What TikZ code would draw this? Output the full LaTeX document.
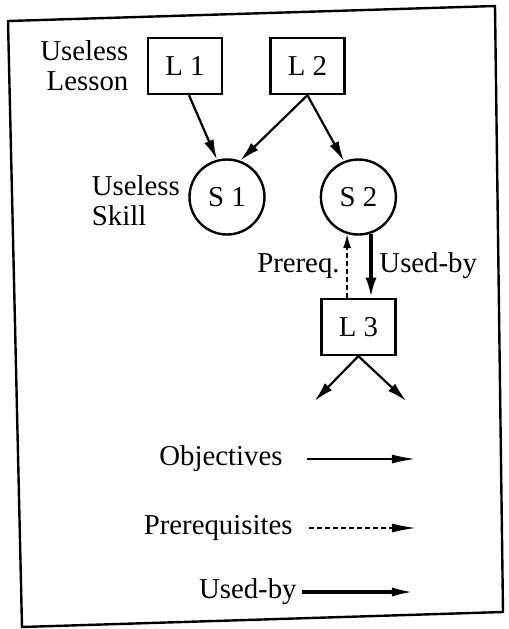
\documentclass[tikz,border=0pt]{standalone}
\usepackage{fontspec}
\setmainfont{Liberation Serif}
\usetikzlibrary{arrows.meta,positioning}
\tikzset{
  >={Latex[length=10pt,width=5pt]},
  lesson/.style={draw,line width=1.2pt,minimum width=37pt,minimum height=28pt,inner sep=2pt},
  skill/.style={draw,circle,line width=1.2pt,minimum size=37.5pt,inner sep=1pt},
  objective/.style={->,line width=1.1pt},
  prereq/.style={->,line width=0.8pt,dash pattern=on 2.5pt off 1.5pt,>={Latex[length=7pt,width=4pt]}},
  usedby/.style={->,line width=1.8pt,>={Latex[length=10pt,width=5.5pt]}},
  legend/.style={inner sep=0pt},
  keyhead/.style={>={Latex[length=12pt,width=4.5pt]}},
  frame/.style={line width=1.2pt,line join=miter}
}
\begin{document}
\begin{tikzpicture}[font=\fontsize{14.4}{15}\selectfont]
\useasboundingbox (0,0) rectangle (254.5pt,-314.5pt);
\draw[frame](4pt,-10.5pt)--(247.5pt,-3pt)--(251.5pt,-306pt)--(11pt,-313.5pt)--cycle;
\node[lesson](l1) at (92.5pt,-33pt){L 1};
\node[lesson,right=23pt of l1](l2){L 2};
\node[skill](s1) at (113.5pt,-98.5pt){S 1};
\node[skill,right=27pt of s1](s2){S 2};
\node[lesson,below=31pt of s2](l3){L 3};
\node[left=5.7pt of l1,align=right](uselesson){Useless\\Lesson};
\node[left=0.7pt of s1,align=left,yshift=-2pt](useskill){Useless\\Skill};
\draw[objective]([xshift=2pt]l1.south)--(s1.105);
\draw[objective](l2.south)--(s1.70);
\draw[objective](l2.south)--(s2.112);
\draw[prereq](s2.253 |- l3.north)--(s2.253) node[midway,left](pqlabel){Prereq.};
\draw[usedby](s2.289)--(s2.289 |- l3.north) node[midway,right](ublabel){Used-by};
\coordinate[below left=22.5pt and 22pt of l3.south](out1);
\coordinate[below right=22.5pt and 24pt of l3.south](out2);
\draw[objective](l3.south)--(out1);
\draw[objective](l3.south)--(out2);
\coordinate(objstart) at (153.5pt,-229.5pt);
\coordinate(objend) at (208pt,-229.5pt);
\coordinate(prestart) at (154.5pt,-264pt);
\coordinate(preend) at (208pt,-264pt);
\coordinate(usestart) at (151pt,-296pt);
\coordinate(useend) at (208pt,-296pt);
\node[legend,left=12pt of objstart](objtext){Objectives};
\node[legend,left=8pt of prestart](pretext){Prerequisites};
\node[legend,left=2.5pt of usestart](usetext){Used-by};
\draw[objective,keyhead](objstart)--(objend);
\draw[prereq,keyhead](prestart)--(preend);
\draw[usedby,keyhead](usestart)--(useend);
\end{tikzpicture}
\end{document}
